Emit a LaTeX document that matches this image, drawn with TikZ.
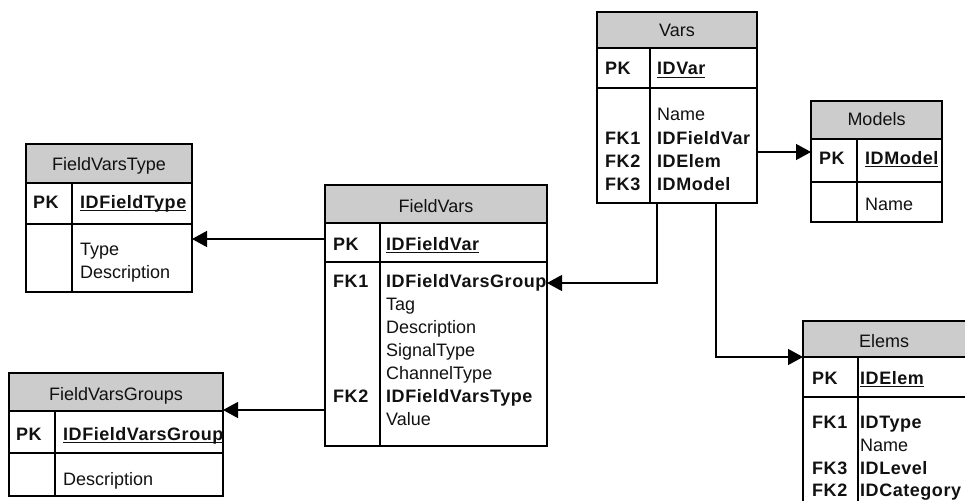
\documentclass[tikz,border=0pt]{standalone}
\usepackage{fontspec}
\setmainfont{Liberation Sans}[BoldFeatures={LetterSpace=3}]
\usetikzlibrary{arrows.meta,fit}

\definecolor{hdrgray}{HTML}{CCCCCC}
\definecolor{ink}{HTML}{111111}

% underlined primary-key column name
\newcommand\keyname[1]{\setbox0\hbox{#1}\rlap{\vrule height -2.2pt depth 3.4pt width \wd0}\box0}

\tikzset{
  frame/.style={line width=1.3pt, draw=black},
  txt/.style={anchor=base west, inner sep=0pt, text=ink, font=\fontsize{18}{23}\selectfont},
  bold/.style={txt, font=\fontsize{18}{23}\selectfont\bfseries},
  title/.style={anchor=base, inner sep=0pt, text=ink, font=\fontsize{18}{23}\selectfont},
  fk/.style={line width=1.3pt, draw=black, -{Triangle[length=15pt,width=16pt]}},
}

% table: name, x1, y1, x2, header bottom, key-row bottom, y2, column divider x
\newcommand\ertable[8]{%
  \fill[hdrgray] (#2,#3) rectangle (#4,#5);
  \node[fit={(#2,#3) (#4,#7)}, inner sep=0pt, frame] (#1) {};
  \draw[frame] (#2,#5) -- (#4,#5) (#2,#6) -- (#4,#6) (#8,#5) -- (#8,#7);
}

\begin{document}
\begin{tikzpicture}[x=1pt, y=-1pt]
\useasboundingbox (0,0) rectangle (965,500);

% ---------- Vars ----------
\ertable{vars}{597}{12}{757}{48}{88}{203}{650}
\node[title] (vars-t) at (677,37) {Vars};
\node[bold] (vars-pk) at (605,75) {PK};
\node[bold] (vars-id) at (657,75) {\keyname{IDVar}};
\node[txt]  (vars-c1) at (657,121) {Name};
\node[bold] (vars-k2) at (605,144) {FK1};
\node[bold] (vars-c2) at (657,144) {IDFieldVar};
\node[bold] (vars-k3) at (605,167) {FK2};
\node[bold] (vars-c3) at (657,167) {IDElem};
\node[bold] (vars-k4) at (605,190) {FK3};
\node[bold] (vars-c4) at (657,190) {IDModel};

% ---------- Models ----------
\ertable{models}{811}{101}{942}{139}{182}{222}{857}
\node[title] (models-t) at (876.5,125) {Models};
\node[bold] (models-pk) at (819,164) {PK};
\node[bold] (models-id) at (865,164) {\keyname{IDModel}};
\node[txt]  (models-c1) at (865,210) {Name};

% ---------- FieldVarsType ----------
\ertable{fvt}{26}{144}{192}{183}{224}{292}{72}
\node[title] (fvt-t) at (109,170) {FieldVarsType};
\node[bold] (fvt-pk) at (33,208) {PK};
\node[bold] (fvt-id) at (80,208) {\keyname{IDFieldType}};
\node[txt]  (fvt-c1) at (80,255) {Type};
\node[txt]  (fvt-c2) at (80,278) {Description};

% ---------- FieldVars ----------
\ertable{fv}{325}{185}{547}{223}{262}{446}{380}
\node[title] (fv-t) at (436,212) {FieldVars};
\node[bold] (fv-pk) at (333,250) {PK};
\node[bold] (fv-id) at (386,250) {\keyname{IDFieldVar}};
\node[bold] (fv-k1) at (333,287) {FK1};
\node[bold] (fv-c1) at (386,287) {IDFieldVarsGroup};
\node[txt]  (fv-c2) at (386,310) {Tag};
\node[txt]  (fv-c3) at (386,333) {Description};
\node[txt]  (fv-c4) at (386,356) {SignalType};
\node[txt]  (fv-c5) at (386,379) {ChannelType};
\node[bold] (fv-k6) at (333,402) {FK2};
\node[bold] (fv-c6) at (386,402) {IDFieldVarsType};
\node[txt]  (fv-c7) at (386,425) {Value};

% ---------- FieldVarsGroups ----------
\ertable{fvg}{9}{373}{223}{411}{453}{496}{55}
\node[title] (fvg-t) at (116,400) {FieldVarsGroups};
\node[bold] (fvg-pk) at (16,440) {PK};
\node[bold] (fvg-id) at (63,440) {\keyname{IDFieldVarsGroup}};
\node[txt]  (fvg-c1) at (63,485) {Description};

% ---------- Elems ----------
\ertable{elems}{803}{321}{967}{357}{397}{520}{858}
\node[title] (elems-t) at (884,347) {Elems};
\node[bold] (elems-pk) at (812,384) {PK};
\node[bold] (elems-id) at (860,384) {\keyname{IDElem}};
\node[bold] (elems-k1) at (812,428) {FK1};
\node[bold] (elems-c1) at (860,428) {IDType};
\node[txt]  (elems-c2) at (860,451) {Name};
\node[bold] (elems-k3) at (812,474) {FK3};
\node[bold] (elems-c3) at (860,474) {IDLevel};
\node[bold] (elems-k4) at (812,496) {FK2};
\node[bold] (elems-c4) at (860,496) {IDCategory};

% ---------- relationship attach points ----------
\coordinate (fv-w1)     at (325,239);
\coordinate (fvt-e)     at (192,239);
\coordinate (fv-w2)     at (325,410);
\coordinate (fvg-e)     at (223,410);
\coordinate (vars-e)    at (757,152);
\coordinate (models-w)  at (811,152);
\coordinate (vars-s1)   at (657,203);
\coordinate (fv-e)      at (547,283);
\coordinate (vars-s2)   at (716,203);
\coordinate (elems-w)   at (803,357);

% ---------- relationships ----------
\draw[fk] (fv-w1) -- (fvt-e);
\draw[fk] (fv-w2) -- (fvg-e);
\draw[fk] (vars-e) -- (models-w);
\draw[fk] (vars-s1) |- (fv-e);
\draw[fk] (vars-s2) |- (elems-w);
\end{tikzpicture}
\end{document}
